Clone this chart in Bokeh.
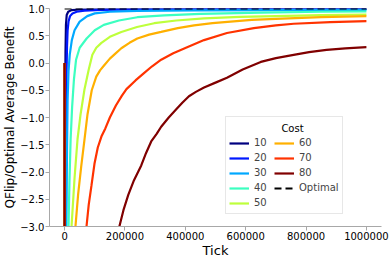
from bokeh.plotting import figure
from bokeh.embed import file_html
from bokeh.resources import INLINE
from bokeh.models import (Range1d, FixedTicker, BasicTickFormatter, CustomJSTickFormatter,
                          Legend, LegendItem, Label)

# ---- data ----
costs = ["10", "20", "30", "40", "50", "60", "70", "80"]
colors = ["#00007f", "#0018ff", "#00a8ff", "#3cffc0", "#beff3c", "#ffb000", "#ff3300", "#800000"]

x10 = [0, 100, 1000, 2000, 3000, 4500, 7000, 12000, 23000, 50000, 150000, 500000, 1000000]
y10 = [0, -100, -3.0, -1.0, 0.2, 0.7, 0.88, 0.94, 0.97, 0.985, 0.993, 0.997, 0.998]

x20 = [0, 100, 3000, 4500, 6000, 8000, 10000, 13000, 18000, 26000, 40000, 66000, 120000, 250000, 500000, 1000000]
y20 = [0, -100, -3.0, -1.5, -0.3, 0.3, 0.6, 0.76, 0.86, 0.91, 0.94, 0.96, 0.975, 0.985, 0.99, 0.992]

x30 = [0, 100, 6000, 8000, 10000, 13000, 17000, 24000, 33000, 50000, 75000, 100000, 150000, 241000, 429000, 700000, 1000000]
y30 = [0, -100, -3.0, -1.6, -0.67, -0.15, 0.15, 0.42, 0.6, 0.76, 0.86, 0.91, 0.94, 0.955, 0.965, 0.97, 0.975]

x40 = [0, 100, 13000, 16000, 20000, 25000, 31000, 38000, 50000, 73000, 100000, 130000, 180000, 241000, 330000, 450000, 650000, 850000, 1000000]
y40 = [0, -100, -3.0, -2.2, -1.4, -0.8, -0.3, 0.06, 0.28, 0.45, 0.6, 0.7, 0.78, 0.84, 0.875, 0.9, 0.925, 0.94, 0.945]

x50 = [0, 100, 23000, 33000, 43000, 53000, 66000, 80000, 92000, 105000, 122000, 150000, 188000, 240000, 297000, 370000, 462000, 580000, 700000, 850000, 1000000]
y50 = [0, -100, -3.0, -2.11, -1.39, -0.94, -0.48, -0.12, 0.15, 0.28, 0.37, 0.48, 0.57, 0.66, 0.73, 0.78, 0.82, 0.845, 0.86, 0.88, 0.89]

x60 = [0, 100, 36000, 45000, 55000, 66000, 76000, 90000, 105000, 118000, 130000, 150000, 170000, 188000, 215000, 241000, 280000, 320000, 375000, 429000, 490000, 550000, 620000, 700000, 850000, 1000000]
y60 = [0, -100, -3.0, -2.4, -1.9, -1.4, -0.94, -0.5, -0.25, -0.13, -0.05, 0.08, 0.18, 0.27, 0.37, 0.45, 0.52, 0.57, 0.64, 0.69, 0.73, 0.76, 0.79, 0.81, 0.84, 0.86]

x70 = [0, 100, 72600, 80000, 89000, 99000, 110000, 122000, 135000, 150000, 170000, 190000, 205000, 235000, 264000, 290000, 320000, 360000, 406000, 462000, 538000, 627000, 700000, 759000, 880000, 1000000]
y70 = [0, -100, -3.0, -2.6, -2.25, -1.85, -1.55, -1.35, -1.2, -1.0, -0.78, -0.6, -0.48, -0.32, -0.18, -0.06, 0.06, 0.18, 0.29, 0.42, 0.55, 0.64, 0.69, 0.72, 0.75, 0.77]

x80 = [0, 100, 181500, 195000, 211000, 230000, 254000, 270000, 287000, 305000, 320000, 345000, 370000, 390000, 412000, 435000, 462000, 500000, 538000, 590000, 650000, 700000, 759000, 810000, 868000, 930000, 1000000]
y80 = [0, -100, -3.0, -2.7, -2.42, -2.15, -1.88, -1.65, -1.44, -1.3, -1.17, -1.0, -0.85, -0.73, -0.61, -0.53, -0.45, -0.36, -0.27, -0.12, 0.02, 0.09, 0.15, 0.2, 0.24, 0.27, 0.29]

xs = [x10, x20, x30, x40, x50, x60, x70, x80]
ys = [y10, y20, y30, y40, y50, y60, y70, y80]

x_opt = [0, 1000000]
y_opt = [1.0, 1.0]

x_ticks = [0, 200000, 400000, 600000, 800000, 1000000]
y_ticks = [-3.0, -2.5, -2.0, -1.5, -1.0, -0.5, 0.0, 0.5, 1.0]

FONT = "DejaVu Sans"

p = figure(width=390, height=260, output_backend="svg", toolbar_location=None,
           x_range=Range1d(-50000, 1050000), y_range=Range1d(-3.0, 1.0),
           min_border_top=8, min_border_right=9, min_border_left=40, min_border_bottom=26)
p.grid.visible = False
p.outline_line_color = None
p.background_fill_color = "white"

items = []
for c, col, x, y in zip(costs, colors, xs, ys):
    r = p.line(x, y, line_color=col, line_width=2.2)
    items.append(LegendItem(label=c, renderers=[r]))
ro = p.line(x_opt, y_opt, line_color="black", line_width=2.2, line_dash="7 4")
items.append(LegendItem(label="Optimal", renderers=[ro]))

for ax in (p.xaxis[0], p.yaxis[0]):
    ax.axis_line_color = "#a8a8a8"
    ax.major_tick_line_color = "#a8a8a8"
    ax.minor_tick_line_color = None
    ax.major_tick_in = 0
    ax.major_tick_out = 4
    ax.major_label_text_font = FONT
    ax.major_label_text_font_size = "10px"
    ax.major_label_text_color = "black"
    ax.axis_label_text_font = FONT
    ax.axis_label_text_font_style = "normal"
    ax.axis_label_text_color = "black"
    ax.major_label_standoff = 1

p.xaxis.ticker = FixedTicker(ticks=x_ticks)
p.xaxis.formatter = BasicTickFormatter(use_scientific=False)
p.xaxis.axis_label = "Tick"
p.xaxis.axis_label_text_font_size = "13px"
p.xaxis.axis_label_standoff = 0

p.yaxis.ticker = FixedTicker(ticks=y_ticks)
p.yaxis.formatter = CustomJSTickFormatter(
    code="return (tick < 0 ? '\u2212' : '') + Math.abs(tick).toFixed(1);")
p.yaxis.axis_label = "QFlip/Optimal Average Benefit"
p.yaxis.axis_label_text_font_size = "12px"
p.yaxis.axis_label_standoff = 0

LEG_X, LEG_Y = 176, 12
legend = Legend(items=items, ncols=2, title=" ", location=(LEG_X, LEG_Y),
                padding=3, spacing=0,
                glyph_width=20, glyph_height=14, label_height=15, label_width=20,
                label_standoff=5, title_standoff=4,
                label_text_font=FONT, label_text_font_size="10px",
                title_text_font=FONT, title_text_font_size="10px", title_text_font_style="normal",
                border_line_color="#d0d0d0", border_line_width=1,
                background_fill_alpha=0.0)
p.add_layout(legend)

title_lbl = Label(x=LEG_X + 67, y=98, x_units="screen", y_units="screen", text="Cost",
                  text_font=FONT, text_font_size="10px", text_align="center",
                  text_baseline="middle", text_color="black", level="overlay")
p.add_layout(title_lbl)

open("out.html", "w").write(file_html(p, INLINE))
